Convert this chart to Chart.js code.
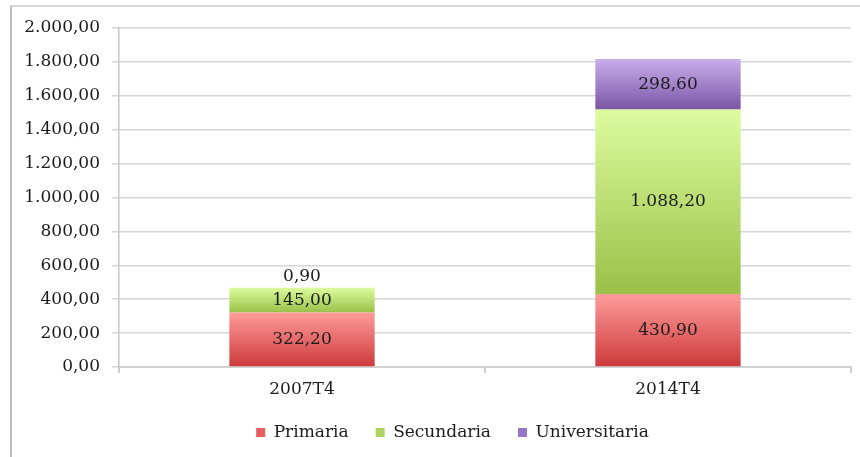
<!DOCTYPE html>
<html>
<head>
<meta charset="utf-8">
<script src="https://cdn.jsdelivr.net/npm/chart.js@4"></script>
<style>
    body { margin: 0; background: #fff; }
    #wrap { position: relative; width: 860px; height: 457px; overflow: hidden; }
    /* grey frame round the chart, only left and top edges are visible in the original */
    #frame { position: absolute; left: 10px; top: 5px; width: 900px; height: 460px;
             border-left: 2px solid #bdbdbd; border-top: 2px solid #d6d6d6; }
    canvas { position: absolute; left: 0; top: 0; }
</style>
</head>
<body>
<div id="wrap">
    <div id="frame"></div>
    <canvas id="chart" width="860" height="457"></canvas>
</div>
<script>
// Data
const periods = ['2007T4', '2014T4'];
const primaria = [322.2, 430.9];
const secundaria = [145.0, 1088.2];
const universitaria = [0.9, 298.6];
const seriesNames = ['Primaria', 'Secundaria', 'Universitaria'];
const legendColors = ['#e35e5e', '#acd464', '#9677c6'];
const yTicks = { min: 0, max: 2000, step: 200 };

const fontFamily = '"DejaVu Serif", "Liberation Serif", serif';
const textColor = '#1c1c1c';

// Spanish style number: 1.088,20
function fmt(v) {
    const parts = v.toFixed(2).split('.');
    parts[0] = parts[0].replace(/\B(?=(\d{3})+(?!\d))/g, '.');
    return parts.join(',');
}

// Vertical gradient spanning each stacked segment (light top, darker bottom)
function gradientFill(top, bottom, flat) {
    return function(c) {
        const chart = c.chart;
        const y = chart.scales.y;
        if (c.type !== 'data' || !y) return flat;
        let start = 0;
        for (let k = 0; k < c.datasetIndex; k++) {
            start += chart.data.datasets[k].data[c.dataIndex];
        }
        const end = start + c.raw;
        const y0 = y.getPixelForValue(start);
        const y1 = y.getPixelForValue(end);
        if (!isFinite(y0) || !isFinite(y1) || y0 === y1) return flat;
        const g = chart.ctx.createLinearGradient(0, y1, 0, y0);
        g.addColorStop(0, top);
        g.addColorStop(1, bottom);
        return g;
    };
}

// Value labels inside the segments (above the bar when the segment is too thin)
const valueLabels = {
    id: 'valueLabels',
    afterDatasetsDraw(chart) {
        const ctx = chart.ctx;
        ctx.save();
        ctx.font = '17px ' + fontFamily;
        ctx.fillStyle = textColor;
        ctx.textAlign = 'center';
        ctx.textBaseline = 'middle';
        chart.data.datasets.forEach((ds, i) => {
            chart.getDatasetMeta(i).data.forEach((bar, j) => {
                const h = Math.abs(bar.base - bar.y);
                const ty = h < 14 ? bar.y - 11 : (bar.y + bar.base) / 2;
                ctx.fillText(fmt(ds.data[j]), bar.x, ty);
            });
        });
        ctx.restore();
    }
};

// The legend in the original sits a bit right of the canvas centre
const legendShift = {
    id: 'legendShift',
    afterLayout(chart) {
        if (chart.legend) chart.legend.left += 54;
    }
};

const ctx = document.getElementById('chart').getContext('2d');

const chart = new Chart(ctx, {
    type: 'bar',
    data: {
        labels: periods,
        datasets: [
            {
                label: seriesNames[0],
                data: primaria,
                backgroundColor: gradientFill('#ff9c9c', '#cd3939', legendColors[0])
            },
            {
                label: seriesNames[1],
                data: secundaria,
                backgroundColor: gradientFill('#dcfc9e', '#99c148', legendColors[1])
            },
            {
                label: seriesNames[2],
                data: universitaria,
                backgroundColor: gradientFill('#c8aeea', '#7c55a6', legendColors[2])
            }
        ]
    },
    options: {
        responsive: false,
        animation: false,
        datasets: {
            bar: {
                barPercentage: 0.397,
                categoryPercentage: 1,
                borderWidth: 0
            }
        },
        layout: {
            padding: { left: 0, right: 9, top: 28, bottom: 6 }
        },
        scales: {
            x: {
                stacked: true,
                afterFit(scale) { scale.height = 30; },
                grid: {
                    drawOnChartArea: false,
                    drawTicks: true,
                    tickLength: 6,
                    color: '#cfcfcf',
                    lineWidth: 2
                },
                border: { color: '#d2d2d2', width: 2 },
                ticks: {
                    color: textColor,
                    padding: 6,
                    font: { family: fontFamily, size: 17 }
                }
            },
            y: {
                stacked: true,
                min: yTicks.min,
                max: yTicks.max,
                afterFit(scale) { scale.width = 119; },
                grid: {
                    color: '#d6d6d6',
                    lineWidth: 1.5,
                    tickLength: 7
                },
                border: { color: '#c4c4c4', width: 1.5 },
                ticks: {
                    stepSize: yTicks.step,
                    color: textColor,
                    padding: 12,
                    font: { family: fontFamily, size: 17 },
                    callback: (v) => fmt(v)
                }
            }
        },
        plugins: {
            legend: {
                position: 'bottom',
                labels: {
                    boxWidth: 9,
                    boxHeight: 9,
                    padding: 27,
                    color: textColor,
                    font: { family: fontFamily, size: 17 },
                    generateLabels(chart) {
                        return chart.data.datasets.map((ds, i) => ({
                            text: ds.label,
                            fillStyle: legendColors[i],
                            strokeStyle: legendColors[i],
                            lineWidth: 0,
                            fontColor: textColor,
                            hidden: false,
                            datasetIndex: i
                        }));
                    }
                }
            },
            tooltip: { enabled: false }
        }
    },
    plugins: [valueLabels, legendShift]
});
</script>
</body>
</html>
